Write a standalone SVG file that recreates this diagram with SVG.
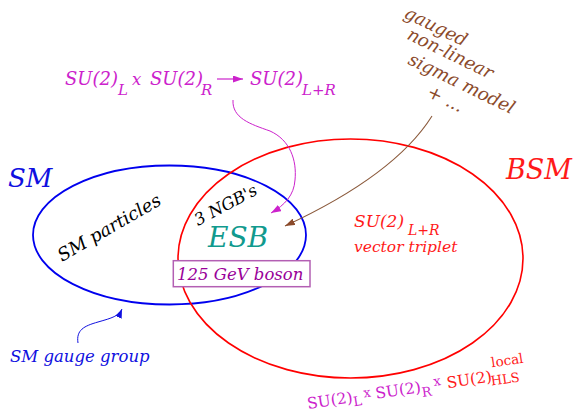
<svg xmlns="http://www.w3.org/2000/svg" width="573" height="413" viewBox="0 0 573 413">
<style>
text{font-family:"DejaVu Serif",serif;}
.it{font-style:italic;}
.mg{fill:#cc22cc;}
.rd{fill:#ff1a1a;}
.bl{fill:#1010e0;}
.br{fill:#8b4a2b;}
</style>
<defs>
<marker id="amg" markerUnits="userSpaceOnUse" markerWidth="10" markerHeight="7" refX="10" refY="3.5" orient="auto"><path d="M0,0L10,3.5L0,7Z" fill="#cc22cc"/></marker>
<marker id="abr" markerUnits="userSpaceOnUse" markerWidth="10" markerHeight="7" refX="10" refY="3.5" orient="auto"><path d="M0,0L10,3.5L0,7Z" fill="#8b4a2b"/></marker>
<marker id="abl" markerUnits="userSpaceOnUse" markerWidth="9" markerHeight="7" refX="9" refY="3.5" orient="auto"><path d="M0,0L9,3.5L0,7Z" fill="#1010e0"/></marker>
</defs>
<rect width="573" height="413" fill="#fff"/>
<g id="sm-set">
<ellipse cx="169.5" cy="235" rx="136.5" ry="69.5" fill="none" stroke="#0000ee" stroke-width="1.8"/>
<text class="it bl" x="8" y="187" font-size="26">SM</text>
</g>
<g id="bsm-set">
<ellipse cx="350.5" cy="258.5" rx="172.5" ry="119.5" fill="none" stroke="#ff0000" stroke-width="1.6"/>
<text class="it rd" x="506" y="179" font-size="27">BSM</text>
</g>
<g id="sm-particles">
<text class="it" x="62" y="262" font-size="18" fill="#000" transform="rotate(-30 62 262)">SM particles</text>
</g>
<g id="ngb">
<text class="it" x="198" y="226" font-size="16.5" fill="#000" transform="rotate(-28 198 226)">3 NGB's</text>
</g>
<g id="esb">
<text class="it" x="208" y="247" font-size="28" fill="#119a8e">ESB</text>
</g>
<g id="higgs">
<rect x="173.3" y="260.7" width="136.7" height="26" fill="#fff" stroke="#b35fb3" stroke-width="1.5"/>
<text class="it" x="177" y="280" font-size="16.5" fill="#990099">125 GeV boson</text>
</g>
<g id="su2-triplet">
<text class="it rd" x="354" y="227" font-size="17">SU(2)</text>
<text class="it rd" x="408" y="235" font-size="14">L+R</text>
<text class="it rd" x="354" y="252" font-size="15.5">vector triplet</text>
</g>
<g id="breaking">
<text class="it mg" x="65" y="85" font-size="18">SU(2)</text>
<text class="it mg" x="118" y="95" font-size="15">L</text>
<text class="it mg" x="132" y="85" font-size="16.5">x</text>
<text class="it mg" x="150" y="85" font-size="18">SU(2)</text>
<text class="it mg" x="201" y="95" font-size="15">R</text>
<text class="it mg" x="250" y="85" font-size="18">SU(2)</text>
<text class="it mg" x="302" y="95" font-size="15">L+R</text>
</g>
<g id="nlsm" transform="translate(403 17) rotate(26)">
<text class="it br" x="0" y="0" font-size="18">gauged</text>
<text class="it br" x="12" y="18" font-size="18">non-linear</text>
<text class="it br" x="24" y="40" font-size="18">sigma model</text>
<text class="it br" x="55" y="61" font-size="18">+ ...</text>
</g>
<g id="gauge-group">
<text class="it bl" x="10" y="362" font-size="16.5">SM gauge group</text>
</g>
<g id="hls" transform="translate(308 409) rotate(-8.5)">
<text class="mg" x="0" y="0" font-size="15.5">SU(2)</text>
<text class="mg" x="46" y="4" font-size="13">L</text>
<text class="mg" x="57" y="-3" font-size="13">x</text>
<text class="mg" x="69" y="0" font-size="15.5">SU(2)</text>
<text class="mg" x="115" y="5" font-size="13">R</text>
<text class="mg" x="128" y="-4" font-size="13">x</text>
<text class="rd" x="141" y="0" font-size="15.5">SU(2)</text>
<text class="rd" x="188" y="-14" font-size="13.5">local</text>
<text class="rd" x="185" y="4" font-size="13">HLS</text>
</g>
<g id="connectors" fill="none">
<path d="M217,79 L243,79" stroke="#cc22cc" stroke-width="1.2" marker-end="url(#amg)"/>
<path d="M233,100 C232,118 250,124 270,131 C290,140 297,160 295,180 C294,195 285,205 271,213" stroke="#cc22cc" stroke-width="1" marker-end="url(#amg)"/>
<path d="M432,116 Q395,175 285,226" stroke="#8b5a3c" stroke-width="1.1" marker-end="url(#abr)"/>
<path d="M78,343 C76,330 84,326 98,322 C112,318 119,316 122,309" stroke="#1010e0" stroke-width="1" marker-end="url(#abl)"/>
</g>
</svg>
